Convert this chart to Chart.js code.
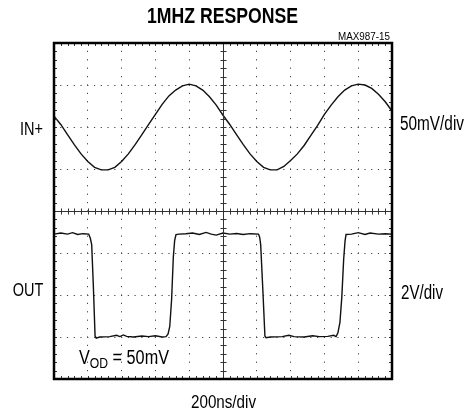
<!DOCTYPE html>
<html>
<head>
<meta charset="utf-8">
<script src="https://cdn.jsdelivr.net/npm/chart.js@4.4.1/dist/chart.umd.min.js"></script>
<style>
  html, body { margin: 0; padding: 0; background: #fff; }
  #wrap { width: 469px; height: 414px; position: relative; }
</style>
</head>
<body>
<div id="wrap"><canvas id="scope" width="469" height="414"></canvas></div>
<script>
// IN+ trace, time in ns, amplitude in mV (50mV/div)
const inTimes = [0, 40, 80, 120, 160, 200, 240, 280, 320, 360, 400, 440, 480, 520, 560, 600, 640, 680, 720, 760,
  800, 840, 880, 920, 960, 1000, 1040, 1080, 1120, 1160, 1200, 1240, 1280, 1320, 1360, 1400, 1440, 1480, 1520, 1560,
  1600, 1640, 1680, 1720, 1760, 1800, 1840, 1880, 1920, 1960, 2000];
const inMillivolts = [13, 3, -9, -21, -32, -41, -48, -51, -51, -48, -41, -32, -21, -9, 3, 15, 27, 37, 44, 49,
  51, 49, 44, 36, 26, 14, 3, -9, -21, -32, -41, -48, -51, -51, -47, -40, -32, -22, -10, 2,
  15, 26, 36, 44, 49, 51, 50, 46, 39, 30, 19];

// OUT trace, time in ns, level in V (2V/div)
const outTimes = [0, 40, 80, 110, 140, 170, 205, 215, 223, 233, 243, 250, 270, 330, 370, 390, 410, 430, 470, 520,
  560, 600, 640, 663, 675, 685, 696, 706, 714, 722, 740, 780, 820, 860, 900, 930, 960, 1000, 1040, 1080,
  1120, 1160, 1210, 1217, 1223, 1236, 1248, 1255, 1280, 1350, 1390, 1420, 1480, 1530, 1570, 1620, 1655, 1669, 1680, 1692,
  1703, 1714, 1722, 1728, 1760, 1800, 1840, 1870, 1920, 1960, 2000];
const outVolts = [4.9, 4.95, 4.9, 4.97, 4.88, 4.92, 4.9, 4.7, 4.4, 2.4, 0.05, -0.05, 0, 0.02, 0.08, 0.02, 0.1, 0.03, 0, 0.05,
  0.02, 0.06, 0, 0.02, 0.15, 0.5, 1.8, 3.8, 4.6, 4.88, 4.9, 4.92, 4.95, 4.88, 4.98, 4.9, 4.85, 4.95, 4.9, 4.93,
  4.88, 4.92, 4.9, 4.75, 4.4, 2.2, 0.05, -0.03, 0, 0.02, 0.08, 0.02, 0, 0.06, 0.02, 0.03, 0.08, 0.02, 0.2, 0.7,
  1.9, 3.7, 4.55, 4.88, 4.9, 4.97, 4.88, 4.95, 4.9, 4.92, 4.9];

const titleText = '1MHZ RESPONSE';
const figureTag = 'MAX987-15';
const channelNames = ['IN+', 'OUT'];
const channelScales = ['50mV/div', '2V/div'];
const timeScale = '200ns/div';
const noteParts = ['V', 'OD', ' = 50mV'];

function pairs(xs, ys) {
  return xs.map((t, i) => ({ x: t, y: ys[i] }));
}

const FONT = 'px "Liberation Sans Narrow", "Liberation Sans", Arial, sans-serif';

// draw a string squeezed or stretched to a given width (narrow type face look)
function fitText(ctx, str, left, base, size, width, bold) {
  ctx.font = (bold ? 'bold ' : '') + size + FONT;
  const w = ctx.measureText(str).width;
  ctx.save();
  ctx.translate(left, base);
  ctx.scale(width / w, 1);
  ctx.fillText(str, 0, 0);
  ctx.restore();
}

// V with OD subscript, then the rest, squeezed as one run
function drawNote(ctx, left, base, width) {
  const runs = [[noteParts[0], 20, 0], [noteParts[1], 15, 3.5], [noteParts[2], 20, 0]];
  let total = 0;
  runs.forEach(r => { ctx.font = r[1] + FONT; total += ctx.measureText(r[0]).width; });
  ctx.save();
  ctx.translate(left, base);
  ctx.scale(width / total, 1);
  let pos = 0;
  runs.forEach(r => {
    ctx.font = r[1] + FONT;
    ctx.fillText(r[0], pos, r[2]);
    pos += ctx.measureText(r[0]).width;
  });
  ctx.restore();
}

const graticule = {
  id: 'graticule',
  afterDatasetsDraw(chart) {
    const { ctx, chartArea: a, scales: { x, y } } = chart;
    const cx = Math.round(x.getPixelForValue(1000)) + 0.5;
    const cy = Math.round(y.getPixelForValue(0)) + 0.5;
    ctx.save();
    ctx.strokeStyle = '#333';
    ctx.lineWidth = 1;
    ctx.beginPath();
    ctx.moveTo(a.left, cy); ctx.lineTo(a.right, cy);
    ctx.moveTo(cx, a.top); ctx.lineTo(cx, a.bottom);
    for (let t = 0; t <= 2000; t += 40) {
      const px = Math.round(x.getPixelForValue(t)) + 0.5;
      ctx.moveTo(px, cy - 3); ctx.lineTo(px, cy + 3);
      ctx.moveTo(px, a.top); ctx.lineTo(px, a.top + 3);
      ctx.moveTo(px, a.bottom); ctx.lineTo(px, a.bottom - 3);
    }
    for (let k = 0; k <= 40; k++) {
      const py = Math.round(y.getPixelForValue(-4 + k * 0.2)) + 0.5;
      ctx.moveTo(cx - 3, py); ctx.lineTo(cx + 3, py);
      ctx.moveTo(a.left, py); ctx.lineTo(a.left + 3, py);
      ctx.moveTo(a.right, py); ctx.lineTo(a.right - 3, py);
    }
    ctx.stroke();
    ctx.lineWidth = 2.5;
    ctx.strokeStyle = '#000';
    ctx.strokeRect(a.left, a.top, a.right - a.left, a.bottom - a.top);
    ctx.restore();
  },
  afterDraw(chart) {
    const ctx = chart.ctx;
    ctx.save();
    ctx.fillStyle = '#000';
    ctx.textBaseline = 'alphabetic';
    fitText(ctx, titleText, 147, 23, 22, 151, true);
    fitText(ctx, figureTag, 338, 39.5, 10, 52, false);
    fitText(ctx, channelNames[0], 20, 134.5, 19, 23, false);
    fitText(ctx, channelNames[1], 12.7, 296, 19, 30.6, false);
    fitText(ctx, channelScales[0], 400, 129.5, 20, 64, false);
    fitText(ctx, channelScales[1], 401, 299, 19.5, 42, false);
    drawNote(ctx, 79, 364, 90);
    fitText(ctx, timeScale, 191, 408, 18, 65, false);
    ctx.restore();
  }
};

new Chart(document.getElementById('scope').getContext('2d'), {
  type: 'scatter',
  data: {
    datasets: [
      {
        label: channelNames[0],
        data: pairs(inTimes, inMillivolts),
        yAxisID: 'yIn',
        showLine: true,
        borderColor: '#111',
        borderWidth: 1.4,
        pointRadius: 0,
        tension: 0
      },
      {
        label: channelNames[1],
        data: pairs(outTimes, outVolts),
        yAxisID: 'yOut',
        showLine: true,
        borderColor: '#111',
        borderWidth: 1.4,
        pointRadius: 0,
        tension: 0
      }
    ]
  },
  options: {
    responsive: false,
    animation: false,
    layout: { padding: { left: 54, top: 43, right: 77, bottom: 35 } },
    plugins: { legend: { display: false }, tooltip: { enabled: false } },
    scales: {
      x: {
        type: 'linear', min: 0, max: 2000,
        ticks: { display: false, stepSize: 200 },
        grid: { color: '#444', lineWidth: 1, drawTicks: false },
        border: { display: false, dash: [1.2, 7.2], dashOffset: 0.6 }
      },
      y: {
        type: 'linear', min: -4, max: 4,
        ticks: { display: false, stepSize: 1 },
        grid: { color: '#444', lineWidth: 1, drawTicks: false },
        border: { display: false, dash: [1.2, 5.56], dashOffset: 0.6 }
      },
      yIn: { type: 'linear', display: false, min: -300, max: 100 },
      yOut: { type: 'linear', display: false, min: -2, max: 14 }
    }
  },
  plugins: [graticule]
});
</script>
</body>
</html>
